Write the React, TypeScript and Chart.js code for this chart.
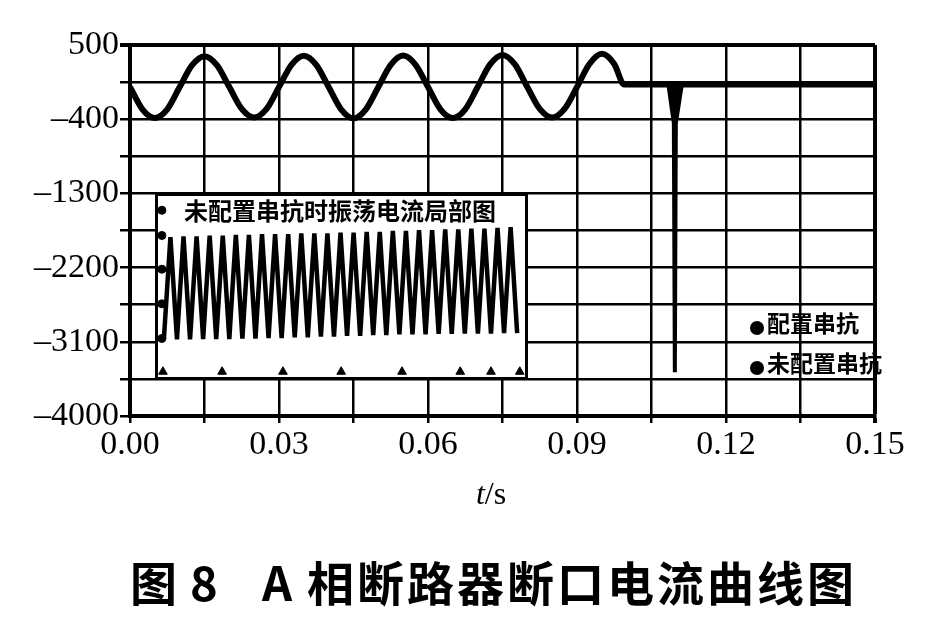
import React, { useEffect, useRef } from "react";
import { Chart, registerables } from "chart.js";

Chart.register(...registerables);

// ---------- data ----------
const seriesNames = ["配置串抗", "未配置串抗"];

// time (s) and breaker current (A) for the case with series reactor
const tWithReactor = [
  0, 0.0025, 0.005, 0.0075, 0.01, 0.0125, 0.015, 0.0175,
  0.02, 0.0225, 0.025, 0.0275, 0.03, 0.0325, 0.035, 0.0375,
  0.04, 0.0425, 0.045, 0.0475, 0.05, 0.0525, 0.055, 0.0575,
  0.06, 0.0625, 0.065, 0.0675, 0.07, 0.0725, 0.075, 0.0775,
  0.08, 0.0825, 0.085, 0.0875, 0.09, 0.0925, 0.095, 0.0975,
  0.0995, 0.12, 0.15,
];
const iWithReactor = [
  -10, -280, -385, -280, -10, 255, 365, 255,
  -10, -275, -380, -275, -10, 260, 370, 260,
  -10, -280, -390, -280, -10, 260, 372, 260,
  -10, -280, -385, -280, -10, 265, 380, 265,
  -10, -275, -380, -275, -10, 270, 395, 270,
  20, 20, 20,
];

// re-ignition spike without series reactor
const tSpike = [0.1084, 0.1095, 0.1097, 0.1099, 0.1111];
const iSpike = [20, -450, -3470, -450, 20];

// axis ticks
const xTickValues = [0, 0.015, 0.03, 0.045, 0.06, 0.075, 0.09, 0.105, 0.12, 0.135, 0.15];
const xTickLabels = ["0.00", "", "0.03", "", "0.06", "", "0.09", "", "0.12", "", "0.15"];
const yTickValues = [500, 50, -400, -850, -1300, -1750, -2200, -2650, -3100, -3550, -4000];
const yTickLabels = ["500", "", "–400", "", "–1300", "", "–2200", "", "–3100", "", "–4000"];

// inset: oscillating current detail (sample index vs current)
const insetTitle = "未配置串抗时振荡电流局部图";
const insetCurrent = [
  -3110, -1790, -3115, -1780, -3115, -1780, -3110, -1770, -3110, -1770,
  -3110, -1760, -3105, -1760, -3105, -1750, -3100, -1750, -3100, -1750,
  -3090, -1740, -3090, -1740, -3080, -1740, -3080, -1730, -3070, -1730,
  -3070, -1720, -3060, -1720, -3060, -1710, -3050, -1710, -3050, -1700,
  -3050, -1700, -3045, -1690, -3045, -1690, -3040, -1680, -3040, -1680,
  -3040, -1670, -3035, -1660, -3035,
];
const insetBottomMarkX = [-0.15, 8.9, 18.2, 27.1, 36.4, 45.3, 50, 54.4];
const insetBottomMarkY = -3535;
const insetLeftMarkX = -0.3;
const insetLeftMarkY = [-1441, -1768, -2205, -2654, -3103];

const captionParts = ["图", "8", "A", "相断路器断口电流曲线图"];
const axisTitle = ["t", "/s"];

const SERIF = '"Liberation Serif", "Times New Roman", serif';
const CJK = '"Noto Sans CJK SC", "Noto Sans", sans-serif';

function labelFor(values: number[], labels: string[], v: number) {
  const i = values.findIndex((x) => Math.abs(x - v) < 1e-9);
  return i >= 0 ? labels[i] : "";
}

const mainDecor = {
  id: "mainDecor",
  afterDraw(chart: any) {
    const ctx = chart.ctx as CanvasRenderingContext2D;
    ctx.save();
    ctx.fillStyle = "#000";
    // legend
    const legendPos = [
      [757, 328],
      [757, 368],
    ];
    ctx.font = `bold 23px ${CJK}`;
    ctx.textBaseline = "middle";
    ctx.textAlign = "left";
    chart.data.datasets.forEach((ds: any, i: number) => {
      const [x, y] = legendPos[i];
      ctx.beginPath();
      ctx.arc(x, y, 7, 0, Math.PI * 2);
      ctx.fill();
      ctx.fillText(ds.label, x + 10, y - 5);
    });
    // axis title t/s
    ctx.textBaseline = "alphabetic";
    ctx.font = `italic 32px ${SERIF}`;
    const w1 = ctx.measureText(axisTitle[0]).width;
    ctx.font = `32px ${SERIF}`;
    const w2 = ctx.measureText(axisTitle[1]).width;
    const x0 = 491 - (w1 + w2) / 2;
    ctx.font = `italic 32px ${SERIF}`;
    ctx.fillText(axisTitle[0], x0, 504);
    ctx.font = `32px ${SERIF}`;
    ctx.fillText(axisTitle[1], x0 + w1, 504);
    // caption
    ctx.font = `bold 47px ${CJK}`;
    ctx.textBaseline = "middle";
    const capX = [130, 190, 262, 307];
    captionParts.forEach((p, i) => {
      (ctx as any).letterSpacing = i === 3 ? "3px" : "0px";
      ctx.fillText(p, capX[i], 583);
    });
    (ctx as any).letterSpacing = "0px";
    ctx.restore();
  },
};

const insetDecor = {
  id: "insetDecor",
  beforeDraw(chart: any) {
    const ctx = chart.ctx as CanvasRenderingContext2D;
    ctx.save();
    ctx.fillStyle = "#fff";
    ctx.fillRect(0, 0, chart.width, chart.height);
    ctx.restore();
  },
  beforeDatasetsDraw(chart: any) {
    const ctx = chart.ctx as CanvasRenderingContext2D;
    ctx.save();
    ctx.fillStyle = "#000";
    ctx.font = `bold 24px ${CJK}`;
    ctx.textAlign = "center";
    ctx.textBaseline = "middle";
    ctx.fillText(insetTitle, 185, 18);
    ctx.restore();
  },
  afterDraw(chart: any) {
    const ctx = chart.ctx as CanvasRenderingContext2D;
    ctx.save();
    ctx.strokeStyle = "#000";
    ctx.lineWidth = 3;
    ctx.strokeRect(1.5, 1.5, chart.width - 3, chart.height - 3);
    ctx.restore();
  },
};

export default function App() {
  const mainRef = useRef<HTMLCanvasElement>(null);
  const insetRef = useRef<HTMLCanvasElement>(null);

  useEffect(() => {
    const main = new Chart(mainRef.current as HTMLCanvasElement, {
      type: "line",
      data: {
        datasets: [
          {
            label: seriesNames[0],
            data: tWithReactor.map((t, i) => ({ x: t, y: iWithReactor[i] })),
            borderColor: "#000",
            borderWidth: 6,
            pointRadius: 0,
            cubicInterpolationMode: "monotone",
            fill: false,
          },
          {
            label: seriesNames[1],
            data: tSpike.map((t, i) => ({ x: t, y: iSpike[i] })),
            borderColor: "#000",
            backgroundColor: "#000",
            borderWidth: 4,
            pointRadius: 0,
            tension: 0,
            fill: "origin",
          },
        ],
      },
      options: {
        animation: false,
        responsive: false,
        devicePixelRatio: 1,
        layout: { padding: { top: 45, right: 72, left: 0, bottom: 0 } },
        plugins: {
          legend: { display: false },
          tooltip: { enabled: false },
        },
        scales: {
          x: {
            type: "linear",
            min: 0,
            max: 0.15,
            afterBuildTicks: (s: any) => {
              s.ticks = xTickValues.map((v) => ({ value: v }));
            },
            afterFit: (s: any) => {
              s.height = 212;
            },
            ticks: {
              callback: (v: any) => labelFor(xTickValues, xTickLabels, Number(v)),
              font: { family: SERIF, size: 34 },
              color: "#000",
              padding: 2,
              maxRotation: 0,
              autoSkip: false,
            },
            grid: {
              color: "#000",
              lineWidth: (c: any) => (c.tick && Math.abs(c.tick.value - 0.15) < 1e-9 ? 4 : 2.5),
              tickLength: 7,
            },
            border: { color: "#000", width: 4 },
          },
          y: {
            type: "linear",
            min: -4000,
            max: 500,
            afterBuildTicks: (s: any) => {
              s.ticks = yTickValues.map((v) => ({ value: v }));
            },
            afterFit: (s: any) => {
              s.width = 130;
            },
            ticks: {
              callback: (v: any) => labelFor(yTickValues, yTickLabels, Number(v)),
              font: { family: SERIF, size: 34 },
              color: "#000",
              padding: 1,
              autoSkip: false,
            },
            grid: {
              color: "#000",
              lineWidth: (c: any) => (c.tick && c.tick.value === 500 ? 4 : 2.5),
              tickLength: 10,
            },
            border: { color: "#000", width: 4 },
          },
        },
      },
      plugins: [mainDecor],
    } as any);

    const inset = new Chart(insetRef.current as HTMLCanvasElement, {
      type: "line",
      data: {
        datasets: [
          {
            label: "振荡电流",
            data: insetCurrent.map((v, i) => ({ x: i, y: v })),
            borderColor: "#000",
            borderWidth: 4.5,
            pointRadius: 0,
            tension: 0,
          },
          {
            label: "底部刻度",
            data: insetBottomMarkX.map((x) => ({ x, y: insetBottomMarkY })),
            showLine: false,
            pointStyle: "triangle",
            pointRadius: 5,
            pointBackgroundColor: "#000",
            pointBorderColor: "#000",
            clip: false,
          },
          {
            label: "左侧刻度",
            data: insetLeftMarkY.map((y) => ({ x: insetLeftMarkX, y })),
            showLine: false,
            pointStyle: "circle",
            pointRadius: 4,
            pointBackgroundColor: "#000",
            pointBorderColor: "#000",
            clip: false,
          },
        ],
      },
      options: {
        animation: false,
        responsive: false,
        devicePixelRatio: 1,
        layout: { padding: 0 },
        plugins: { legend: { display: false }, tooltip: { enabled: false } },
        scales: {
          x: { type: "linear", display: false, min: -0.44, max: 54.74 },
          y: { type: "linear", display: false, min: -3564, max: -1295 },
        },
      },
      plugins: [insetDecor],
    } as any);

    return () => {
      main.destroy();
      inset.destroy();
    };
  }, []);

  return (
    <div style={{ position: "fixed", left: 0, top: 0, width: 947, height: 628, background: "#fff" }}>
      <canvas
        ref={mainRef}
        width={947}
        height={628}
        style={{ position: "absolute", left: 0, top: 0, width: 947, height: 628 }}
      />
      <canvas
        ref={insetRef}
        width={373}
        height={187}
        style={{ position: "absolute", left: 155, top: 193, width: 373, height: 187 }}
      />
    </div>
  );
}
